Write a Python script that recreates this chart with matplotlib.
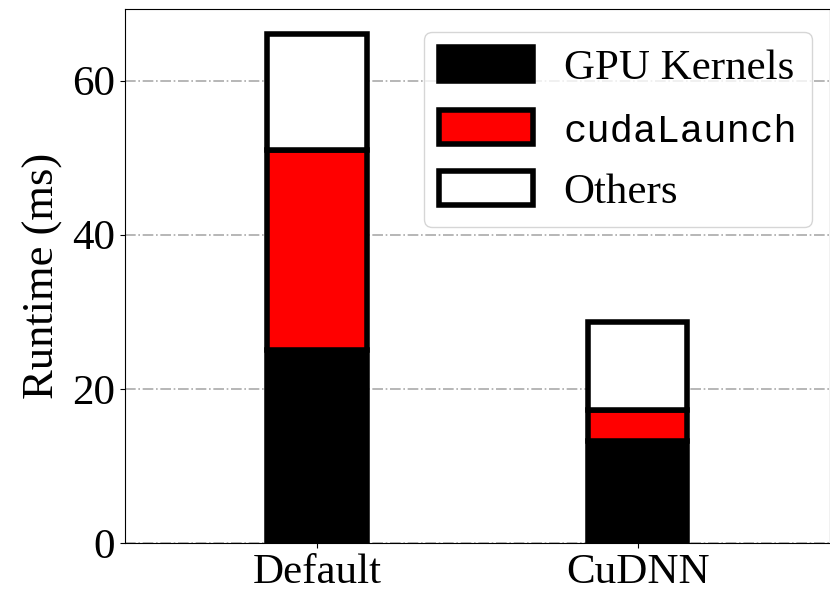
import numpy as np
import matplotlib
matplotlib.use('Agg')
import matplotlib.pyplot as plt

configs = ['Default', 'CuDNN']
gpu_kernels = [25.0, 13.2]
cuda_launch = [26.0, 4.0]
others = [15.0, 11.5]

plt.rcParams['font.family'] = ['Liberation Serif', 'DejaVu Serif']
plt.rcParams['font.size'] = 31

fig, ax = plt.subplots(figsize=(8.3, 5.92), dpi=100)
fig.subplots_adjust(left=0.15, right=1.0, bottom=0.083, top=0.985)

x = np.arange(len(configs))
w = 0.31
lw = 4
ax.bar(x, gpu_kernels, w, color='black', edgecolor='black', linewidth=lw, label='GPU Kernels')
ax.bar(x, cuda_launch, w, bottom=gpu_kernels, color='red', edgecolor='black', linewidth=lw,
       label='cudaLaunch')
bottom2 = np.array(gpu_kernels) + np.array(cuda_launch)
ax.bar(x, others, w, bottom=bottom2, color='white', edgecolor='black', linewidth=lw, label='Others')

ax.set_xticks(x)
ax.set_xticklabels(configs)
ax.tick_params(axis='x', pad=4)
ax.set_xlim(-0.6, 1.6)
ax.set_yticks([0, 20, 40, 60])
ax.set_ylabel('Runtime (ms)', fontsize=32, labelpad=6)
ax.set_axisbelow(True)
ax.yaxis.grid(True, linestyle='-.', color='#aaaaaa', linewidth=1.2)

leg = ax.legend(loc='upper right', handlelength=2.2, handleheight=0.85, borderpad=0.35,
                labelspacing=0.5, handletextpad=0.7, borderaxespad=0,
                bbox_to_anchor=(0.975, 0.957))
for t in leg.get_texts():
    if t.get_text() == 'cudaLaunch':
        t.set_family(['Liberation Mono', 'DejaVu Sans Mono'])
        t.set_fontsize(28)

fig.savefig('out.png', dpi=100)
